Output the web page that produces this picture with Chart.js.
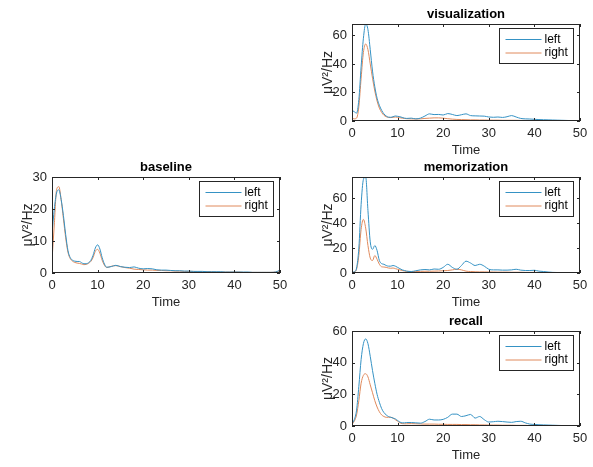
<!DOCTYPE html>
<html lang="en">
<head>
    <meta charset="UTF-8">
    <title>Power spectra</title>
    <script src="https://cdn.jsdelivr.net/npm/chart.js"></script>
    <style>
        body { margin: 0; background: #fff; width: 593px; height: 467px; position: relative; overflow: hidden; }
        canvas { position: absolute; }
    </style>
</head>
<body>
    <canvas id="baseline" width="293" height="160" style="left:0px;top:153px"></canvas>
    <canvas id="visualization" width="293" height="161" style="left:300px;top:0px"></canvas>
    <canvas id="memorization" width="293" height="160" style="left:300px;top:153px"></canvas>
    <canvas id="recall" width="293" height="159" style="left:300px;top:307px"></canvas>
    <script>
        const freq = [0, 0.5, 1, 1.5, 2, 2.5, 3, 3.5, 4, 4.5, 5, 5.5, 6, 6.5, 7, 7.5, 8, 8.5, 9, 9.5, 10, 10.5, 11, 11.5, 12,
            13, 14, 15, 16, 17, 18, 19, 20, 21, 22, 23, 24, 25, 26, 27, 28, 29, 30, 31, 32, 33, 34, 35, 36, 37, 38, 39, 40,
            41, 42, 43, 44, 45, 46, 47, 48, 49, 50];

        const baselineLeft = [12, 20, 25, 26, 23, 18, 12, 7, 4.8, 4, 3.7, 3.6, 3.6, 3.2, 2.9, 2.9, 3.2, 3.9, 5.5, 7.8, 8.8, 7.5, 4.8, 2.8, 1.8,
            2.0, 2.4, 2.0, 1.8, 1.7, 1.9, 1.5, 1.3, 1.4, 1.3, 1.0, 0.9, 0.9, 0.8, 0.7, 0.7, 0.6, 0.6, 0.5, 0.5, 0.5, 0.4, 0.4, 0.4, 0.4, 0.3, 0.3, 0.3,
            0.3, 0.3, 0.3, 0.2, 0.2, 0.2, 0.2, 0.2, 0.3, 0.9];
        const baselineRight = [4, 15, 26, 27, 23, 17, 11, 6.5, 4.5, 3.7, 3.3, 3.1, 3.0, 2.8, 2.6, 2.7, 3.0, 3.6, 4.8, 6.8, 7.4, 6.2, 4.0, 2.4, 1.7,
            2.1, 2.3, 2.0, 1.7, 1.5, 1.2, 1.1, 1.0, 0.9, 0.9, 0.8, 0.8, 0.7, 0.7, 0.6, 0.6, 0.5, 0.5, 0.5, 0.4, 0.4, 0.4, 0.4, 0.3, 0.3, 0.3, 0.3, 0.3,
            0.3, 0.2, 0.2, 0.2, 0.2, 0.2, 0.2, 0.2, 0.3, 0.7];

        const visLeft = [7.5, 6.5, 5.5, 15, 38, 58, 68, 64, 50, 35, 24, 16, 11, 7.5, 5, 3.5, 2.7, 2.6, 3, 3.5, 3.3, 3, 2.5, 2.0, 1.8,
            2, 1.5, 2, 3.5, 5, 4.5, 4.6, 4.2, 5.2, 4.6, 3.8, 4.4, 5, 3.8, 3.6, 3.5, 3.4, 2.8, 2.6, 2.8, 2.5, 3, 3.8, 2.8, 1.8, 1.5, 1.4, 1.2,
            1.0, 0.9, 0.8, 0.7, 0.6, 0.5, 0.4, 0.3, 0.3, 0.3];
        const visRight = [2, 1.5, 2, 10, 30, 48, 54, 50, 40, 30, 21, 14, 9, 6, 4, 3, 2.5, 2.4, 2.6, 2.8, 2.6, 2.3, 2, 1.8, 1.6,
            1.5, 1.4, 1.5, 1.8, 2, 2.2, 2.2, 2.0, 1.6, 1.3, 1.1, 1.0, 0.9, 0.8, 0.8, 0.7, 0.7, 0.6, 0.6, 0.6, 0.5, 0.5, 0.5, 0.5, 0.4, 0.4, 0.4, 0.4,
            0.3, 0.3, 0.3, 0.2, 0.2, 0.2, 0.2, 0.1, 0.1, 0.1];

        const memLeft = [0.5, 1, 4, 20, 55, 75, 77, 50, 25, 19, 22, 18, 10, 7.5, 7, 6, 5.5, 5.5, 6, 5.5, 4.5, 3.5, 2.5, 2, 1.5,
            1.2, 1.8, 2.5, 2.8, 2.5, 3.2, 3, 4.5, 7, 4.5, 3, 6, 9.5, 8, 6, 7, 5.5, 3, 2.5, 2.5, 2.3, 2.3, 2.5, 3, 2.3, 2, 2, 2.2,
            1.5, 1.2, 0.8, 0.5, 0.4, 0.4, 0.3, 0.3, 0.2, 0.2];
        const memRight = [0.3, 0.8, 3, 14, 35, 43, 36, 22, 12, 10, 14, 11, 7, 5, 4.8, 4.5, 4, 3.8, 4, 3.5, 3, 2.5, 2, 1.6, 1.3,
            1.2, 1.2, 1.3, 1.4, 1.4, 1.5, 1.6, 1.8, 2, 2.5, 3, 2.5, 1.5, 1.2, 1.0, 0.9, 0.9, 0.8, 0.8, 0.7, 0.7, 0.7, 0.6, 0.6, 0.6, 0.5, 0.5, 0.5,
            0.4, 0.4, 0.3, 0.3, 0.2, 0.2, 0.2, 0.2, 0.1, 0.1];

        const recallLeft = [1.5, 4, 10, 25, 42, 52, 55, 52, 44, 35, 27, 20, 15, 11, 8.5, 7, 6, 5.5, 5, 4.5, 3.5, 2.5, 2, 2, 2.2,
            2.2, 2, 1.8, 2.8, 4.3, 3.8, 3.8, 4.2, 5.5, 7.5, 7.5, 6, 6.5, 7.3, 5, 6, 4, 2.5, 2.7, 3, 2.8, 2.5, 2.3, 2.8, 3, 2, 1.2, 1,
            0.8, 0.7, 0.6, 0.5, 0.4, 0.3, 0.3, 0.2, 0.2, 0.1];
        const recallRight = [1, 3, 7, 16, 27, 32, 33, 31, 26, 21, 16, 12, 9, 7, 6, 5.5, 5.5, 5.5, 5, 4, 3, 2, 1.5, 1.4, 1.4,
            1.5, 1.4, 1.3, 1.2, 1.2, 1.2, 1.1, 1.1, 1.0, 1.0, 1.0, 0.9, 0.9, 0.8, 0.8, 0.7, 0.7, 0.6, 0.6, 0.6, 0.5, 0.5, 0.5, 0.4, 0.4, 0.4, 0.3, 0.3,
            0.3, 0.2, 0.2, 0.2, 0.2, 0.1, 0.1, 0.1, 0.1, 0.1];

        const xTicks = [0, 10, 20, 30, 40, 50];
        const yTicksBaseline = [0, 10, 20, 30];
        const yTicksTask = [0, 20, 40, 60];
        const seriesNames = ['left', 'right'];

        const FONT = '"Liberation Sans", Arial, Helvetica, sans-serif';
        const AXIS_COLOR = '#262626';
        const BLUE = '#3592c4';
        const ORANGE = '#e08a5c';

        Chart.defaults.font.family = FONT;

        // box, inward ticks, title and legend like a matlab axes
        const matlabAxes = {
            id: 'matlabAxes',
            afterDraw(chart, args, opts) {
                const { ctx, chartArea: a, scales: { x, y } } = chart;
                ctx.save();
                ctx.strokeStyle = AXIS_COLOR;
                ctx.lineWidth = 1;
                ctx.strokeRect(Math.round(a.left) + 0.5, Math.round(a.top) + 0.5,
                    Math.round(a.width) - 1, Math.round(a.height) - 1);

                const len = 3;
                ctx.beginPath();
                x.ticks.forEach(t => {
                    const px = Math.round(x.getPixelForValue(t.value)) + 0.5;
                    ctx.moveTo(px, a.bottom); ctx.lineTo(px, a.bottom - len);
                    ctx.moveTo(px, a.top); ctx.lineTo(px, a.top + len);
                });
                y.ticks.forEach(t => {
                    const py = Math.round(y.getPixelForValue(t.value)) + 0.5;
                    ctx.moveTo(a.left, py); ctx.lineTo(a.left + len, py);
                    ctx.moveTo(a.right, py); ctx.lineTo(a.right - len, py);
                });
                ctx.stroke();

                ctx.fillStyle = '#000';
                ctx.font = 'bold 13px ' + FONT;
                ctx.textAlign = 'center';
                ctx.textBaseline = 'middle';
                ctx.fillText(opts.text, (a.left + a.right) / 2, a.top - 10);

                // legend
                const bx = Math.round(a.right) - 80.5, by = Math.round(a.top) + 4.5, bw = 74, bh = 35;
                ctx.fillStyle = '#fff';
                ctx.fillRect(bx, by, bw, bh);
                ctx.strokeStyle = AXIS_COLOR;
                ctx.strokeRect(bx, by, bw, bh);
                ctx.font = '12px ' + FONT;
                ctx.textAlign = 'left';
                chart.data.datasets.forEach((ds, i) => {
                    const ly = by + 11 + i * 13.5;
                    ctx.strokeStyle = ds.borderColor;
                    ctx.lineWidth = 1;
                    ctx.beginPath();
                    ctx.moveTo(bx + 6, ly); ctx.lineTo(bx + 42, ly);
                    ctx.stroke();
                    ctx.fillStyle = '#000';
                    ctx.fillText(ds.label, bx + 45, ly);
                });
                ctx.restore();
            }
        };

        function pts(vals) {
            return freq.map((f, i) => ({ x: f, y: vals[i] }));
        }

        function makePanel(id, title, left, right, yMax, yTicks) {
            new Chart(document.getElementById(id), {
                type: 'line',
                data: {
                    datasets: [
                        { label: seriesNames[0], data: pts(left), borderColor: BLUE, borderWidth: 1 },
                        { label: seriesNames[1], data: pts(right), borderColor: ORANGE, borderWidth: 1 }
                    ]
                },
                options: {
                    responsive: false,
                    animation: false,
                    events: [],
                    layout: { padding: { top: 24, right: 13, left: 0, bottom: 0 } },
                    elements: {
                        point: { radius: 0 },
                        line: { cubicInterpolationMode: 'monotone', fill: false }
                    },
                    scales: {
                        x: {
                            type: 'linear', min: 0, max: 50,
                            grid: { display: false, drawTicks: false },
                            border: { display: false },
                            afterBuildTicks: s => { s.ticks = xTicks.map(v => ({ value: v })); },
                            afterFit: s => { s.height = 40; },
                            ticks: { color: AXIS_COLOR, font: { size: 13 }, padding: 5, maxRotation: 0 },
                            title: { display: true, text: 'Time', color: AXIS_COLOR, font: { size: 13 }, padding: { top: 0, bottom: 2.5 } }
                        },
                        y: {
                            min: 0, max: yMax,
                            grid: { display: false, drawTicks: false },
                            border: { display: false },
                            afterBuildTicks: s => { s.ticks = yTicks.map(v => ({ value: v })); },
                            afterFit: s => { s.width = 52; },
                            ticks: { color: AXIS_COLOR, font: { size: 13 }, padding: 5 },
                            title: { display: true, text: 'μV²/Hz', color: AXIS_COLOR, font: { size: 14 }, padding: { top: 20, bottom: 0 } }
                        }
                    },
                    plugins: {
                        legend: { display: false },
                        tooltip: { enabled: false },
                        matlabAxes: { text: title }
                    }
                },
                plugins: [matlabAxes]
            });
        }

        makePanel('baseline', 'baseline', baselineLeft, baselineRight, 30, yTicksBaseline);
        makePanel('visualization', 'visualization', visLeft, visRight, 68, yTicksTask);
        makePanel('memorization', 'memorization', memLeft, memRight, 77, yTicksTask);
        makePanel('recall', 'recall', recallLeft, recallRight, 60, yTicksTask);
    </script>
</body>
</html>
